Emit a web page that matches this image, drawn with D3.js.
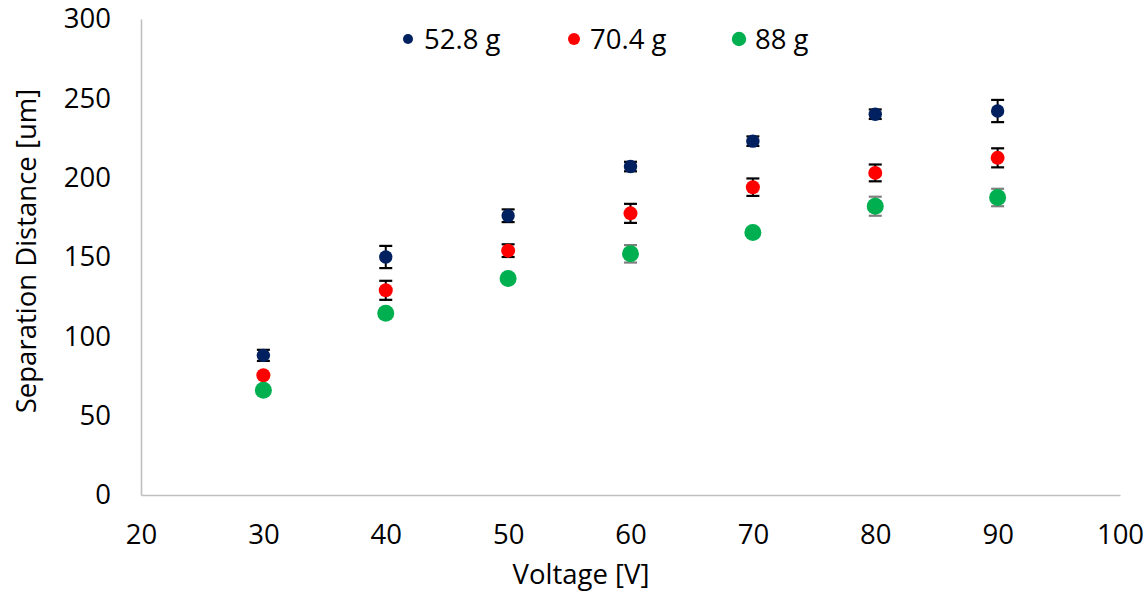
<!DOCTYPE html>
<html>
<head>
<meta charset="utf-8">
<script src="https://cdn.jsdelivr.net/npm/d3@7"></script>
<style>
  html, body { margin: 0; padding: 0; background: #fff; }
  svg text { font-family: "Open Sans", "Noto Sans", sans-serif; fill: #000; }
</style>
</head>
<body>
<svg id="chart" width="1147" height="592"></svg>
<script>
// Voltage settings (x) and measured separation distance (y, um) per load
const voltages = [30, 40, 50, 60, 70, 80, 90];
const series52 = [88, 150, 176, 207, 223, 240, 242];
const err52    = [3.5, 7, 4, 3, 3, 3, 7];
const series70 = [75.5, 129, 154, 177.5, 194, 203, 212.5];
const err70    = [0, 6, 4, 6, 5.5, 5.3, 6];
const series88 = [66, 114.5, 136.5, 152, 165.5, 182, 187.5];
const err88    = [0, 0, 0, 5.5, 0, 6, 5.5];
const seriesNames = ["52.8 g", "70.4 g", "88 g"];
const xTicks = [20, 30, 40, 50, 60, 70, 80, 90, 100];
const yTicks = [0, 50, 100, 150, 200, 250, 300];

const FONT = "27.5px";
const svg = d3.select("#chart");
const x = d3.scaleLinear().domain([20, 100]).range([141, 1120]);
const y = d3.scaleLinear().domain([0, 300]).range([495, 19]);

const series = [
  { name: seriesNames[0], vals: series52, errs: err52, color: "#002060", r: 6.7, lr: 5,   errColor: "#000" },
  { name: seriesNames[1], vals: series70, errs: err70, color: "#ff0000", r: 7,   lr: 6,   errColor: "#000" },
  { name: seriesNames[2], vals: series88, errs: err88, color: "#00b050", r: 8.5, lr: 7.2, errColor: "#7f7f7f" }
];

// Axes: plain gray lines, labels only
const xAxis = d3.axisBottom(x).tickValues(xTicks).tickSize(0).tickPadding(29);
const yAxis = d3.axisLeft(y).tickValues(yTicks).tickSize(0).tickPadding(30);

const gx = svg.append("g").attr("transform", `translate(0,${y(0)})`).call(xAxis);
const gy = svg.append("g").attr("transform", `translate(${x(20)},0)`).call(yAxis);
[gx, gy].forEach(g => {
  g.select(".domain").attr("stroke", "#bfbfbf").attr("stroke-width", 1.6);
  g.selectAll("text").style("font-size", FONT).attr("fill", "#000");
});

// Error bars drawn beneath the markers
series.forEach(s => {
  const g = svg.append("g");
  voltages.forEach((v, i) => {
    const e = s.errs[i];
    if (!e) return;
    const cx = x(v), y1 = y(s.vals[i] + e), y2 = y(s.vals[i] - e);
    g.append("line").attr("x1", cx).attr("x2", cx).attr("y1", y1).attr("y2", y2)
      .attr("stroke", s.errColor).attr("stroke-width", 2);
    [y1, y2].forEach(yy => g.append("line")
      .attr("x1", cx - 6.5).attr("x2", cx + 6.5).attr("y1", yy).attr("y2", yy)
      .attr("stroke", s.errColor).attr("stroke-width", 2.2));
  });
});

// Markers
series.forEach(s => {
  svg.append("g").selectAll("circle").data(voltages).join("circle")
    .attr("cx", d => x(d))
    .attr("cy", (d, i) => y(s.vals[i]))
    .attr("r", s.r)
    .attr("fill", s.color);
});

// Legend
const legendX = [408, 574, 739];
series.forEach((s, i) => {
  const g = svg.append("g").attr("transform", `translate(${legendX[i]},39)`);
  g.append("circle").attr("r", s.lr).attr("fill", s.color);
  g.append("text").attr("x", 16).attr("dy", "0.35em").style("font-size", FONT).text(s.name);
});

// Axis titles
svg.append("text").attr("x", 581).attr("y", 584).attr("text-anchor", "middle")
  .style("font-size", FONT).text("Voltage [V]");
svg.append("text").attr("transform", "translate(36,251) rotate(-90)").attr("text-anchor", "middle")
  .style("font-size", FONT).text("Separation Distance [um]");
</script>
</body>
</html>
